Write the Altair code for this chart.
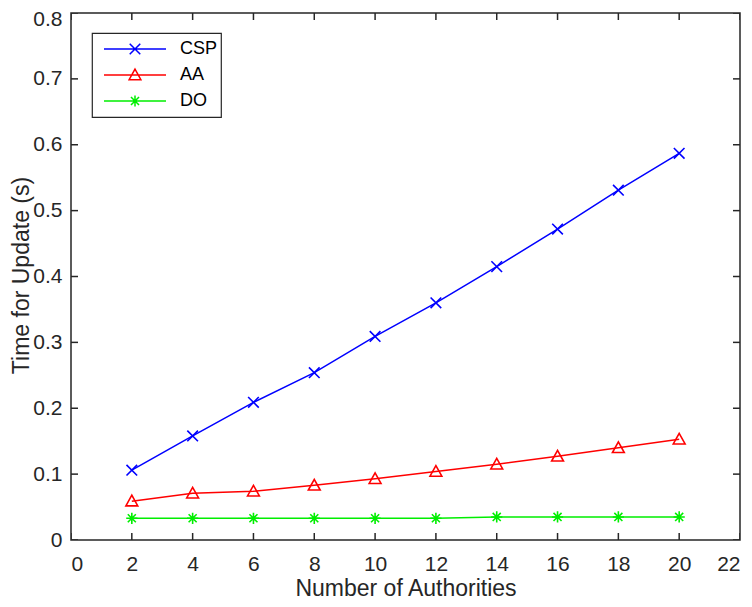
import altair as alt
import pandas as pd

FONT = "Liberation Sans"
AX = "#262626"

x_vals = [2, 4, 6, 8, 10, 12, 14, 16, 18, 20]
csp = [0.106, 0.158, 0.209, 0.254, 0.309, 0.360, 0.415, 0.472, 0.531, 0.587]
aa = [0.059, 0.071, 0.074, 0.083, 0.093, 0.104, 0.115, 0.127, 0.140, 0.153]
do_ = [0.033, 0.033, 0.033, 0.033, 0.033, 0.033, 0.035, 0.035, 0.035, 0.035]

names = ["CSP", "AA", "DO"]
colors = ["#0000ff", "#ff0000", "#00ee00"]

x_ticks = [0, 2, 4, 6, 8, 10, 12, 14, 16, 18, 20, 22]
y_ticks = [0, 0.1, 0.2, 0.3, 0.4, 0.5, 0.6, 0.7, 0.8]

marker_paths = [
    "M-0.9,-0.9L0.9,0.9M-0.9,0.9L0.9,-0.9",
    "M0,-1L1,0.8L-1,0.8Z",
    "M0,-0.95V0.95M-0.95,0H0.95M-0.68,-0.68L0.68,0.68M-0.68,0.68L0.68,-0.68",
]
legend_paths = [
    "M-1,0H1M-0.17,-0.17L0.17,0.17M-0.17,0.17L0.17,-0.17",
    "M-1,0H1M0,-0.19L0.19,0.15L-0.19,0.15Z",
    "M-1,0H1M0,-0.18V0.18M-0.13,-0.13L0.13,0.13M-0.13,0.13L0.13,-0.13",
]

rows = []
for name, vals in zip(names, [csp, aa, do_]):
    for xv, yv in zip(x_vals, vals):
        rows.append({"x": xv, "y": yv, "series": name, "lab": name})
df = pd.DataFrame(rows)
xt_df = pd.DataFrame({"t": x_ticks})
yt_df = pd.DataFrame({"t": y_ticks})

xs = alt.Scale(domain=[0, 22], nice=False)
ys = alt.Scale(domain=[0, 0.8], nice=False)

xaxis = alt.Axis(values=x_ticks, title="Number of Authorities", ticks=False, tickSize=0,
                 domain=False, grid=False, labelFontSize=21, labelPadding=13,
                 labelColor=AX, labelFont=FONT, titleFont=FONT, titleFontSize=23,
                 titleFontWeight="normal", titleColor=AX, titleY=55,
                 titleBaseline="alphabetic", format="d")
yaxis = alt.Axis(values=y_ticks, title="Time for Update (s)", ticks=False, tickSize=0,
                 domain=False, grid=False, labelFontSize=21, labelPadding=9,
                 labelColor=AX, labelFont=FONT, titleFont=FONT, titleFontSize=23,
                 titleFontWeight="normal", titleColor=AX, titleX=-43, titleY=262,
                 titleAngle=270, titleBaseline="alphabetic", titleAlign="center",
                 labelOffset={"condition": {"test": "datum.value >= 0.79", "value": 6}, "value": 0},
                 labelExpr="datum.value == 0 ? '0' : format(datum.value, '.1f')")

X = alt.X("x:Q", scale=xs, axis=xaxis)
Y = alt.Y("y:Q", scale=ys, axis=yaxis)
color = alt.Color("series:N", scale=alt.Scale(domain=names, range=colors), legend=None)

base = alt.Chart(df)
lines = base.mark_line(strokeWidth=1.5).encode(x=X, y=Y, color=color)
points = base.mark_point(filled=False, opacity=1, strokeWidth=1.6, size=140).encode(
    x=X, y=Y, color=color,
    shape=alt.Shape("series:N", scale=alt.Scale(domain=names, range=marker_paths), legend=None),
)

leg = alt.Legend(orient="none", legendX=21, legendY=20, clipHeight=26, symbolSize=3844,
                 symbolStrokeWidth=1.5, labelFontSize=18, labelFont=FONT, labelColor="black",
                 labelOffset=13, padding=3, symbolOffset=8, rowPadding=0,
                 strokeColor=AX, fillColor="white", title=None)
legend_layer = base.transform_filter("false").mark_point(
    filled=False, opacity=1, strokeWidth=1.5, size=3844
).encode(
    x=X, y=Y,
    shape=alt.Shape("lab:N", scale=alt.Scale(domain=names, range=legend_paths), legend=leg),
    stroke=alt.Stroke("lab:N", scale=alt.Scale(domain=names, range=colors), legend=leg),
)

tick_style = dict(size=14, thickness=1.5, color=AX, clip=True, opacity=1)
bottom_t = alt.Chart(xt_df).mark_tick(orient="vertical", **tick_style).encode(
    x=alt.X("t:Q", scale=xs, axis=xaxis), y=alt.datum(0))
top_t = alt.Chart(xt_df).mark_tick(orient="vertical", **tick_style).encode(
    x=alt.X("t:Q", scale=xs, axis=xaxis), y=alt.datum(0.8))
left_t = alt.Chart(yt_df).mark_tick(orient="horizontal", **tick_style).encode(
    y=alt.Y("t:Q", scale=ys, axis=yaxis), x=alt.datum(0))
right_t = alt.Chart(yt_df).mark_tick(orient="horizontal", **tick_style).encode(
    y=alt.Y("t:Q", scale=ys, axis=yaxis), x=alt.datum(22))

chart = alt.layer(lines, points, bottom_t, top_t, left_t, right_t, legend_layer).resolve_scale(
    shape="independent", stroke="independent"
).properties(
    width=669, height=527,
    padding={"left": 63, "top": 5, "right": 4, "bottom": 59},
    autosize=alt.AutoSizeParams(type="none"),
    background="white",
).configure_view(stroke=AX, strokeWidth=1.5).configure_legend(strokeWidth=1.2)

chart.save("out.html", embed_options={"renderer": "svg", "actions": False})
